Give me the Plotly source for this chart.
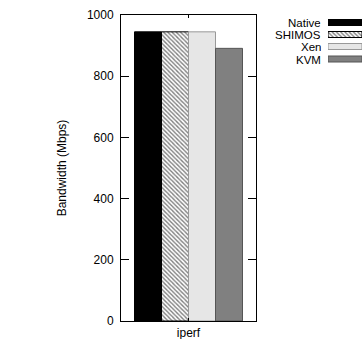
import plotly.graph_objects as go

categories = ["iperf"]
series_names = ["Native", "SHIMOS", "Xen", "KVM"]
values = [945, 945, 945, 891]
y_ticks = [0, 200, 400, 600, 800, 1000]

fills = ["#000000", "#ffffff", "#e6e6e6", "#808080"]
lines = ["#000000", "#000000", "#999999", "#555555"]
patterns = ["", "\\", "", ""]

W, H = 362, 339
L, T, B = 121, 15, 18
plot_right = 256
pw_paper = W - L
ph = H - T - B

font = dict(family="Liberation Sans, Arial, sans-serif", size=12, color="#000000")
leg_font = dict(family="Liberation Sans, Arial, sans-serif", size=11.5, color="#000000")


def mk_marker(fc, lc, pat):
    m = dict(color=fc, line=dict(color=lc, width=1))
    if pat:
        m["pattern"] = dict(shape=pat, fgcolor="#000000", bgcolor="#ffffff",
                            size=3, solidity=0.45, fillmode="overlay")
    return m


fig = go.Figure()
for name, v, fc, lc, pat in zip(series_names, values, fills, lines, patterns):
    fig.add_trace(go.Bar(x=categories, y=[v], name=name,
                         marker=mk_marker(fc, lc, pat), showlegend=False))

# manual gnuplot-style key: text right-aligned, swatch to the right
leg_y = [22.5, 34.5, 46.5, 59]
sw_x0 = 328
for name, fc, lc, pat, py in zip(series_names, fills, lines, patterns, leg_y):
    fig.add_annotation(x=(322 - L) / pw_paper, y=(H - B - py) / ph,
                       xref="paper", yref="paper", text=name, showarrow=False,
                       xanchor="right", yanchor="middle", font=leg_font,
                       borderpad=0, height=11)
    fig.add_trace(go.Bar(x=[1], y=[H - B - py], orientation="h", width=6, offset=-3,
                         marker=mk_marker(fc, lc, pat), xaxis="x2", yaxis="y2",
                         showlegend=False, hoverinfo="skip"))

fig.update_layout(
    width=W, height=H,
    margin=dict(l=L, r=0, t=T, b=B),
    paper_bgcolor="white", plot_bgcolor="white",
    barmode="group", bargap=0.2, bargroupgap=0,
    font=font,
    showlegend=False,
    xaxis=dict(domain=[0, (plot_right - L) / pw_paper]),
    xaxis2=dict(domain=[(sw_x0 - L) / pw_paper, 1], range=[0, 1], visible=False,
                anchor="y2", fixedrange=True),
    yaxis2=dict(domain=[0, 1], range=[0, ph], visible=False, anchor="x2",
                fixedrange=True),
)
fig.layout.xaxis.update(type="category", range=[-0.5, 0.5], showline=True,
                        linecolor="#000000", linewidth=1, mirror="ticks",
                        ticks="inside", ticklen=3, tickcolor="#000000",
                        showgrid=False, zeroline=False, tickfont=font,
                        automargin=False, ticklabelstandoff=1)
fig.layout.yaxis.update(range=[0, 1000], tickvals=y_ticks, showline=True,
                        linecolor="#000000", linewidth=1, mirror="ticks",
                        ticks="inside", ticklen=8, tickcolor="#000000",
                        showgrid=False, zeroline=False, tickfont=font,
                        automargin=False, ticklabelstandoff=4,
                        title=dict(text="Bandwidth (Mbps)", font=font, standoff=17))

fig.write_html("out.html", config={"displayModeBar": False},
               post_script="document.body.style.margin='0';document.body.style.overflow='hidden';")
